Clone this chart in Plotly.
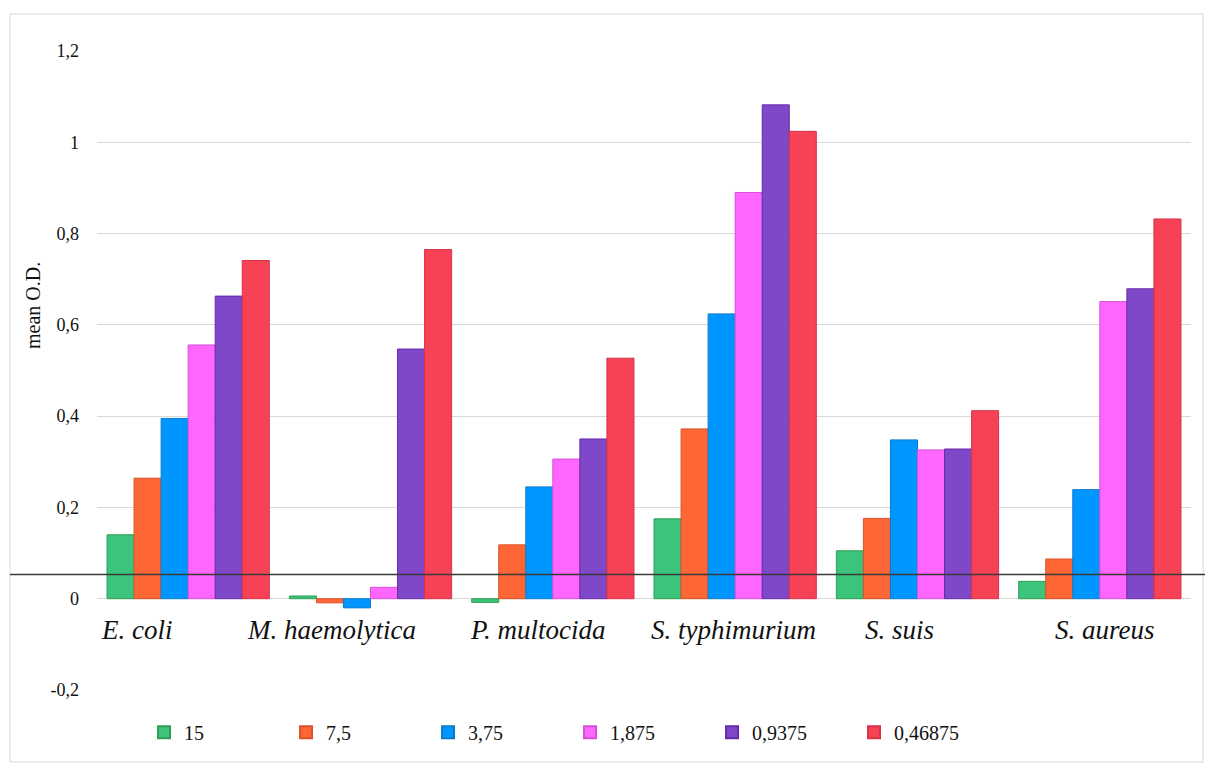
import plotly.graph_objects as go

# Bacterial strains on the x axis
strains = ["E. coli", "M. haemolytica", "P. multocida", "S. typhimurium", "S. suis", "S. aureus"]

# Concentration series (legend names)
concentrations = ["15", "7,5", "3,75", "1,875", "0,9375", "0,46875"]

# Mean optical density per strain, one list per concentration
od_15 = [0.140, 0.006, -0.008, 0.175, 0.105, 0.038]
od_7_5 = [0.264, -0.009, 0.118, 0.372, 0.176, 0.087]
od_3_75 = [0.395, -0.020, 0.245, 0.624, 0.348, 0.239]
od_1_875 = [0.556, 0.025, 0.306, 0.890, 0.326, 0.651]
od_0_9375 = [0.663, 0.547, 0.350, 1.082, 0.328, 0.679]
od_0_46875 = [0.741, 0.765, 0.527, 1.024, 0.412, 0.832]

# Cut-off level drawn as a horizontal line
cutoff = 0.053

# Y axis ticks
tick_vals = [-0.2, 0, 0.2, 0.4, 0.6, 0.8, 1.0, 1.2]
tick_text = ["-0,2", "0", "0,2", "0,4", "0,6", "0,8", "1", "1,2"]

series = [od_15, od_7_5, od_3_75, od_1_875, od_0_9375, od_0_46875]
fills = ["#3DC47C", "#FF6636", "#0096FF", "#FF66FF", "#7F48C9", "#F74256"]
edges = ["#2C9F52", "#D9522B", "#0B7BCB", "#D650D6", "#6629AA", "#D5334A"]

# Horizontal nudges for the italic strain labels under the bars (px)
label_shift = [-52, -39, -15, -2, -18, 5]

SERIF = "Liberation Serif, Times New Roman, serif"

fig = go.Figure()
for name, vals, fc, ec in zip(concentrations, series, fills, edges):
    fig.add_trace(go.Bar(
        x=strains, y=vals, name=name,
        marker=dict(color=fc, line=dict(color=ec, width=1)),
    ))

for s, dx in zip(strains, label_shift):
    fig.add_annotation(
        x=s, y=0, xref="x", yref="y", text=f"<i>{s}</i>",
        showarrow=False, yanchor="middle", yshift=-31, xshift=dx,
        font=dict(family=SERIF, size=27, color="#111111"),
    )

# Axis title
fig.add_annotation(
    x=-0.0585, y=0.601, xref="paper", yref="paper", text="mean O.D.",
    textangle=-90, showarrow=False, xanchor="center", yanchor="middle",
    font=dict(family=SERIF, size=20, color="#111111"),
)

# Outer frame
fig.add_shape(type="rect", xref="paper", yref="paper",
              x0=-0.0795, x1=1.011, y0=-0.1127, y1=1.058,
              line=dict(color="#d9d9d9", width=1), layer="below")

# Cut-off line across the whole chart
fig.add_shape(type="line", xref="paper", yref="y",
              x0=-0.0795, x1=1.013, y0=cutoff, y1=cutoff,
              line=dict(color="#3a3a3a", width=1.5), layer="above")

fig.update_layout(
    width=1205, height=767,
    margin=dict(l=97, r=14, t=51, b=77),
    plot_bgcolor="white", paper_bgcolor="white",
    barmode="group", bargap=0.11, bargroupgap=0,
    font=dict(family=SERIF, color="#111111"),
    showlegend=True,
    legend=dict(
        orientation="h", x=0.043, y=-0.066, xanchor="left", yanchor="middle",
        font=dict(family=SERIF, size=20, color="#111111"),
        entrywidth=97, entrywidthmode="pixels",
        itemsizing="constant", traceorder="normal",
    ),
    xaxis=dict(showticklabels=False, showgrid=False, showline=False,
               zeroline=False, ticks=""),
    yaxis=dict(range=[-0.2, 1.2], tickvals=tick_vals, ticktext=tick_text,
               showgrid=True, gridcolor="#d9d9d9", gridwidth=1,
               zeroline=False, showline=False, ticks="",
               ticklabelstandoff=17,
               tickfont=dict(family=SERIF, size=18, color="#111111")),
)

fig.write_html("out.html")
